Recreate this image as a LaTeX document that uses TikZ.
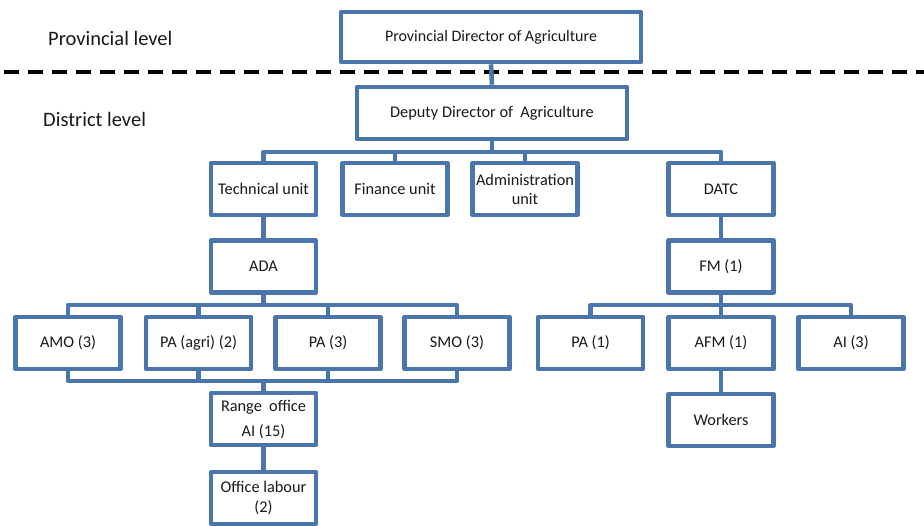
\documentclass[tikz,border=0pt]{standalone}
\usepackage{fontspec}
\setmainfont{Carlito}
\definecolor{orgblue}{RGB}{74,118,173}
\begin{document}
\begin{tikzpicture}[x=1pt,y=-1pt,
  unit/.style={draw=orgblue, line width=4.6pt, line join=round, fill=white,
    minimum width=105pt, minimum height=52pt, inner sep=0pt, align=center,
    font=\fontsize{16.3}{19}\selectfont, text=black!90},
  link/.style={draw=orgblue, line width=4.6pt, line join=round},
  level/.style={anchor=west, inner sep=0pt, font=\fontsize{20.5}{24}\selectfont, text=black!90},
  divider/.style={draw=black, line width=4.5pt, dash pattern=on 15pt off 9pt}]
\useasboundingbox (0,0) rectangle (924,525);

% boundary between the two administrative levels
\coordinate (divL) at (4,72);
\coordinate (divR) at (924,72);
\draw[divider] (divL) -- (divR);

\node[level] (provlbl) at (48,38) {Provincial level};
\node[level] (distlbl) at (43,119) {District level};

% top of the hierarchy
\node[unit, minimum width=300pt, minimum height=50pt, font=\fontsize{16}{18}\selectfont] (prov) at (491,37) {Provincial Director of Agriculture};
\node[unit, minimum width=270pt] (dep) at (492,113) {Deputy Director of\ \ Agriculture};

% units
\node[unit] (tech) at (263.5,189) {Technical unit};
\node[unit] (fin) at (395,189) {Finance unit};
\node[unit] (adm) at (525,189) {Administration\\unit};
\node[unit] (datc) at (721,189) {DATC};

\node[unit] (ada) at (263.5,266.5) {ADA};
\node[unit] (fm) at (721,266.5) {FM (1)};

% staff under ADA
\node[unit] (amo) at (68,343) {AMO (3)};
\node[unit] (paagri) at (198.5,343) {PA (agri) (2)};
\node[unit] (pathree) at (328,343) {PA (3)};
\node[unit] (smo) at (457,343) {SMO (3)};

% staff under FM
\node[unit] (paone) at (590.5,343) {PA (1)};
\node[unit] (afm) at (721,343) {AFM (1)};
\node[unit] (aithree) at (851,343) {AI (3)};

\node[unit] (range) at (263.5,419) {Range\ \ office\\[6pt]AI (15)};
\node[unit] (workers) at (721,420) {Workers};
\node[unit, font=\fontsize{16.3}{20}\selectfont] (labour) at (263.5,498) {Office labour\\(2)};

% bus lines
\coordinate (busA) at (492,152);
\coordinate (busB) at (263.5,305);
\coordinate (busC) at (263.5,381);
\coordinate (busD) at (721,305);

\draw[link] (prov.south) -- (dep.north);
\draw[link] (dep.south) -- (busA);
\foreach \n in {tech,fin,adm,datc} \draw[link] (\n.north) |- (busA);

\draw[link] (tech.south) -- (ada.north);
\draw[link] (datc.south) -- (fm.north);

\draw[link] (ada.south) -- (busB);
\foreach \n in {amo,paagri,pathree,smo} \draw[link] (\n.north) |- (busB);
\foreach \n in {amo,paagri,pathree,smo} \draw[link] (\n.south) |- (busC);
\draw[link] (busC) -- (range.north);
\draw[link] (range.south) -- (labour.north);

\draw[link] (fm.south) -- (busD);
\foreach \n in {paone,afm,aithree} \draw[link] (\n.north) |- (busD);
\draw[link] (afm.south) -- (workers.north);
\end{tikzpicture}
\end{document}
